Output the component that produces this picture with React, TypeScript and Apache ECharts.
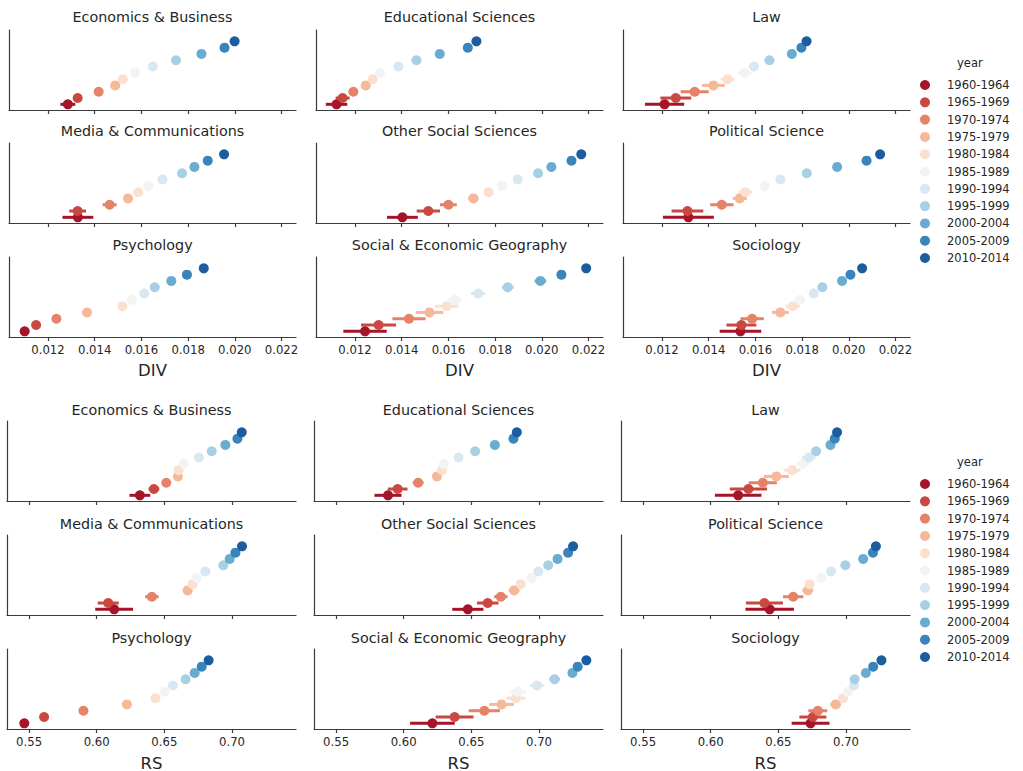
import React, { useEffect, useRef } from "react";
import * as echarts from "echarts";

const YEARS = ["1960-1964", "1965-1969", "1970-1974", "1975-1979", "1980-1984", "1985-1989", "1990-1994", "1995-1999", "2000-2004", "2005-2009", "2010-2014"];
const COLORS = ["#a51429", "#ca4842", "#e58267", "#f7b799", "#fce0cf", "#f3f3f3", "#d7e8f1", "#a7d0e4", "#6aacd0", "#3884bb", "#1c5d9f"];

const FIELDS = ["Economics & Business", "Educational Sciences", "Law", "Media & Communications", "Other Social Sciences", "Political Science", "Psychology", "Social & Economic Geography", "Sociology"];

const DIV_TICKS = [0.012, 0.014, 0.016, 0.018, 0.02, 0.022];
const RS_TICKS = [0.55, 0.6, 0.65, 0.7];

// DIV (mean, error half-width)
const DIV_ECON = [0.01285, 0.01327, 0.01417, 0.01488, 0.0152, 0.01573, 0.01649, 0.01748, 0.01857, 0.01956, 0.01999];
const DIV_ECON_ERR = [0.00032, 0.00015, 0.0001, 0.0001, 0.0001, 0.00008, 0.00008, 0.00008, 0.00008, 0.00008, 0.00006];
const DIV_EDUC = [0.01121, 0.01147, 0.01193, 0.01246, 0.01276, 0.01307, 0.01386, 0.01463, 0.01563, 0.01683, 0.0172];
const DIV_EDUC_ERR = [0.00046, 0.0003, 0.0002, 0.00015, 0.00012, 0.0001, 0.0001, 0.0001, 0.00008, 0.00008, 0.00006];
const DIV_LAW = [0.01211, 0.01259, 0.0134, 0.0142, 0.01481, 0.01554, 0.01594, 0.0166, 0.01756, 0.01797, 0.01819];
const DIV_LAW_ERR = [0.00084, 0.00066, 0.0006, 0.00049, 0.0003, 0.0003, 0.0002, 0.0002, 0.00015, 0.0001, 0.00008];
const DIV_MEDIA = [0.01328, 0.01327, 0.01464, 0.01543, 0.01586, 0.0163, 0.0169, 0.01774, 0.01827, 0.01884, 0.01954];
const DIV_MEDIA_ERR = [0.00066, 0.00036, 0.0003, 0.00018, 0.00015, 0.00012, 0.0002, 0.0001, 0.0001, 0.00008, 0.00006];
const DIV_OTHER = [0.01403, 0.01514, 0.016, 0.01707, 0.01773, 0.0183, 0.01897, 0.01984, 0.02041, 0.02127, 0.02169];
const DIV_OTHER_ERR = [0.00066, 0.0005, 0.00036, 0.00022, 0.00015, 0.00012, 0.00012, 0.0001, 0.0001, 0.00008, 0.00006];
const DIV_POL = [0.01313, 0.01309, 0.01456, 0.01533, 0.01557, 0.0164, 0.01707, 0.0182, 0.0195, 0.02076, 0.02134];
const DIV_POL_ERR = [0.00109, 0.00068, 0.0005, 0.0003, 0.0003, 0.0002, 0.0002, 0.00015, 0.00012, 0.0001, 0.00008];
const DIV_PSYCH = [0.011, 0.01149, 0.01236, 0.01367, 0.01518, 0.01559, 0.01612, 0.01657, 0.01728, 0.01795, 0.01867];
const DIV_PSYCH_ERR = [0.00008, 0.00008, 0.00008, 0.00008, 0.00006, 0.00006, 0.00006, 0.00006, 0.00005, 0.00005, 0.00005];
const DIV_GEO = [0.01243, 0.01301, 0.01431, 0.01519, 0.01593, 0.01629, 0.01727, 0.01854, 0.01994, 0.02084, 0.0219];
const DIV_GEO_ERR = [0.00093, 0.00075, 0.00071, 0.00059, 0.0005, 0.0003, 0.0003, 0.00025, 0.00025, 0.00015, 0.00008];
const DIV_SOC = [0.01536, 0.0154, 0.01586, 0.01707, 0.0176, 0.01791, 0.0185, 0.01887, 0.01971, 0.02007, 0.02057];
const DIV_SOC_ERR = [0.00089, 0.00064, 0.0005, 0.00036, 0.0003, 0.0002, 0.0002, 0.00015, 0.00012, 0.0001, 0.00008];

// RS (mean, error half-width)
const RS_ECON = [0.6319, 0.6423, 0.6514, 0.66, 0.6605, 0.6645, 0.6756, 0.685, 0.6951, 0.704, 0.7072];
const RS_ECON_ERR = [0.0077, 0.004, 0.003, 0.002, 0.002, 0.002, 0.002, 0.0015, 0.0015, 0.0015, 0.001];
const RS_EDUC = [0.5884, 0.5955, 0.6107, 0.6246, 0.6283, 0.6298, 0.6405, 0.6528, 0.6674, 0.6811, 0.6836];
const RS_EDUC_ERR = [0.01, 0.0073, 0.004, 0.003, 0.003, 0.002, 0.002, 0.002, 0.0015, 0.0015, 0.001];
const RS_LAW = [0.6203, 0.6279, 0.6385, 0.6485, 0.6603, 0.6681, 0.6725, 0.6779, 0.6885, 0.6917, 0.6934];
const RS_LAW_ERR = [0.0172, 0.0138, 0.0104, 0.0092, 0.006, 0.005, 0.005, 0.003, 0.002, 0.002, 0.0015];
const RS_MEDIA = [0.6129, 0.6085, 0.6408, 0.6672, 0.6709, 0.6739, 0.6803, 0.6936, 0.6983, 0.7025, 0.7074];
const RS_MEDIA_ERR = [0.014, 0.0078, 0.005, 0.003, 0.003, 0.002, 0.002, 0.002, 0.0015, 0.0015, 0.001];
const RS_OTHER = [0.6474, 0.6621, 0.6718, 0.6816, 0.6865, 0.6944, 0.6995, 0.7068, 0.7137, 0.7215, 0.7252];
const RS_OTHER_ERR = [0.0115, 0.008, 0.005, 0.004, 0.003, 0.002, 0.002, 0.002, 0.0015, 0.0015, 0.001];
const RS_POL = [0.6436, 0.6397, 0.661, 0.6718, 0.673, 0.6816, 0.689, 0.6995, 0.7127, 0.7199, 0.7221];
const RS_POL_ERR = [0.0179, 0.0137, 0.0075, 0.004, 0.003, 0.002, 0.002, 0.002, 0.0015, 0.0015, 0.001];
const RS_PSYCH = [0.5465, 0.5611, 0.5902, 0.6223, 0.6435, 0.6502, 0.6563, 0.6657, 0.6724, 0.6776, 0.6827];
const RS_PSYCH_ERR = [0.0015, 0.0015, 0.0015, 0.0015, 0.0015, 0.0015, 0.0015, 0.0015, 0.0015, 0.0015, 0.0015];
const RS_GEO = [0.6212, 0.6376, 0.6596, 0.6723, 0.6829, 0.6843, 0.6985, 0.7115, 0.7247, 0.7286, 0.735];
const RS_GEO_ERR = [0.0165, 0.014, 0.0115, 0.009, 0.007, 0.006, 0.005, 0.004, 0.003, 0.002, 0.0015];
const RS_SOC = [0.6738, 0.6755, 0.6792, 0.6924, 0.6978, 0.7015, 0.7059, 0.7064, 0.7147, 0.7201, 0.7262];
const RS_SOC_ERR = [0.014, 0.01, 0.007, 0.004, 0.003, 0.002, 0.002, 0.002, 0.0015, 0.0015, 0.001];

const FONT = "DejaVu Sans";
const INK = "#262626";

function buildOption() {
  const blocks = [
    {
      metric: "DIV",
      panels: [
        [DIV_ECON, DIV_ECON_ERR], [DIV_EDUC, DIV_EDUC_ERR], [DIV_LAW, DIV_LAW_ERR],
        [DIV_MEDIA, DIV_MEDIA_ERR], [DIV_OTHER, DIV_OTHER_ERR], [DIV_POL, DIV_POL_ERR],
        [DIV_PSYCH, DIV_PSYCH_ERR], [DIV_GEO, DIV_GEO_ERR], [DIV_SOC, DIV_SOC_ERR],
      ],
      min: 0.01033, max: 0.02262, ticks: DIV_TICKS, dec: 3,
      lefts: [9, 316, 623], width: 287, tops: [30, 143, 257], titleYs: [17, 131, 245],
      labelY: 370, legendTop: 73, yearY: 63,
    },
    {
      metric: "RS",
      panels: [
        [RS_ECON, RS_ECON_ERR], [RS_EDUC, RS_EDUC_ERR], [RS_LAW, RS_LAW_ERR],
        [RS_MEDIA, RS_MEDIA_ERR], [RS_OTHER, RS_OTHER_ERR], [RS_POL, RS_POL_ERR],
        [RS_PSYCH, RS_PSYCH_ERR], [RS_GEO, RS_GEO_ERR], [RS_SOC, RS_SOC_ERR],
      ],
      min: 0.5337, max: 0.7473, ticks: RS_TICKS, dec: 2,
      lefts: [7, 314, 621], width: 289, tops: [421, 535, 649], titleYs: [410, 524, 638],
      labelY: 763, legendTop: 472, yearY: 462,
    },
  ];

  const grid: any[] = [];
  const xAxis: any[] = [];
  const yAxis: any[] = [];
  const series: any[] = [];
  const graphic: any[] = [];
  const legend: any[] = [];
  const H = 80;

  blocks.forEach((b) => {
    b.panels.forEach((pd, k) => {
      const row = Math.floor(k / 3);
      const col = k % 3;
      const idx = grid.length;
      const left = b.lefts[col];
      grid.push({ left, top: b.tops[row], width: b.width, height: H, containLabel: false });
      const bottomRow = row === 2;
      xAxis.push({
        type: "value", gridIndex: idx, min: b.min, max: b.max,
        axisLine: { show: true, onZero: false, lineStyle: { color: "#3a3a3a", width: 1.2 } },
        axisTick: { show: true, customValues: b.ticks, length: 4, lineStyle: { color: "#3a3a3a", width: 1.2 } },
        axisLabel: {
          show: bottomRow, customValues: b.ticks, margin: 7, fontSize: 11.7, fontFamily: FONT, color: INK,
          formatter: (v: number) => v.toFixed(b.dec),
        },
        splitLine: { show: false },
      });
      yAxis.push({
        type: "value", gridIndex: idx, min: -0.9, max: 11.8,
        axisLine: { show: true, onZero: false, lineStyle: { color: "#3a3a3a", width: 1.2 } },
        axisTick: { show: false }, axisLabel: { show: false }, splitLine: { show: false },
      });
      const vals = pd[0] as number[];
      const errs = pd[1] as number[];
      series.push({
        type: "custom", xAxisIndex: idx, yAxisIndex: idx, silent: true, z: 2,
        encode: { x: [0, 1], y: 2 },
        data: vals.map((v, i) => [v - errs[i], v + errs[i], i]),
        renderItem: (params: any, api: any) => {
          const yi = api.value(2);
          const a = api.coord([api.value(0), yi]);
          const c = api.coord([api.value(1), yi]);
          return {
            type: "line",
            shape: { x1: a[0], y1: a[1], x2: c[0], y2: c[1] },
            style: { stroke: COLORS[yi], lineWidth: 3 },
          };
        },
      });
      vals.forEach((v, i) => {
        series.push({
          type: "scatter", name: YEARS[i], xAxisIndex: idx, yAxisIndex: idx, z: 3 + i * 0.01,
          symbol: "circle", symbolSize: 10, silent: true,
          itemStyle: { color: COLORS[i], opacity: 1 },
          emphasis: { disabled: true },
          data: [[v, i]],
        });
      });
      graphic.push({
        type: "text", silent: true,
        style: {
          text: FIELDS[k], x: left + b.width / 2, y: b.titleYs[row],
          textAlign: "center", textVerticalAlign: "middle",
          fontSize: 14.3, fontFamily: FONT, fill: INK,
        },
      });
      if (bottomRow) {
        graphic.push({
          type: "text", silent: true,
          style: {
            text: b.metric, x: left + b.width / 2, y: b.labelY,
            textAlign: "center", textVerticalAlign: "middle",
            fontSize: 16.5, fontFamily: FONT, fill: INK,
          },
        });
      }
    });
    legend.push({
      data: YEARS, orient: "vertical", left: 915, top: b.legendTop,
      icon: "circle", itemWidth: 34, itemHeight: 10, itemGap: 3.3,
      selectedMode: false,
      textStyle: { fontSize: 11.5, fontFamily: FONT, color: INK, lineHeight: 14 },
    });
    graphic.push({
      type: "text", silent: true,
      style: {
        text: "year", x: 957, y: b.yearY, textAlign: "left", textVerticalAlign: "middle",
        fontSize: 11.5, fontFamily: FONT, fill: INK,
      },
    });
  });

  return {
    animation: false,
    backgroundColor: "#ffffff",
    textStyle: { fontFamily: FONT },
    grid, xAxis, yAxis, series, graphic, legend,
  };
}

export default function App() {
  const ref = useRef<HTMLDivElement>(null);
  useEffect(() => {
    document.body.style.margin = "0";
    if (!ref.current) return;
    const chart = echarts.init(ref.current, undefined, { renderer: "svg" });
    chart.setOption(buildOption() as any);
    return () => chart.dispose();
  }, []);
  return <div ref={ref} style={{ width: 1023, height: 771 }} />;
}
